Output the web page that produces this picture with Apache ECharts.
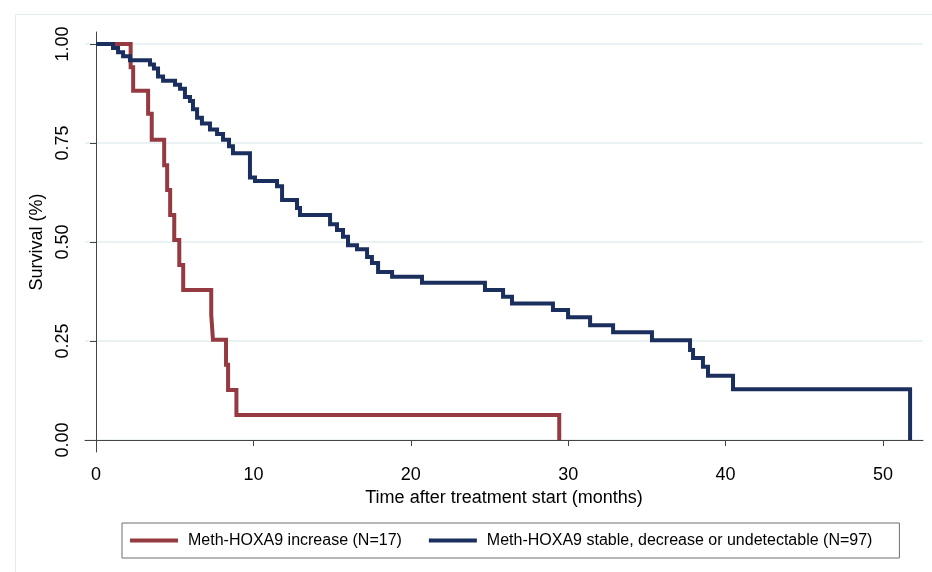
<!DOCTYPE html>
<html>
<head>
<meta charset="utf-8">
<title>Survival by Meth-HOXA9</title>
<script src="https://cdn.jsdelivr.net/npm/echarts@6/dist/echarts.min.js"></script>
<style>
    html, body { margin: 0; padding: 0; background: #fff; }
    #chart { width: 932px; height: 572px; }
</style>
</head>
<body>
<div id="chart"></div>
<script>
// Kaplan-Meier steps (months, survival)
const redName = 'Meth-HOXA9 increase (N=17)';
const redTime = [0, 2.2, 2.36, 3.31, 3.54, 4.33, 4.52, 4.71, 4.97, 5.29, 5.54, 7.32, 7.43, 8.26, 8.39, 8.92, 29.43];
const redSurv = [1, 0.941, 0.882, 0.824, 0.758, 0.694, 0.631, 0.568, 0.505, 0.442, 0.379, 0.316, 0.253, 0.19, 0.126, 0.063, 0];

const blueName = 'Meth-HOXA9 stable, decrease or undetectable (N=97)';
const blueTime = [0, 1.08, 1.40, 1.72, 2.16, 3.43, 3.68, 3.94, 4.26, 5.02, 5.34, 5.65, 5.97, 6.16, 6.42, 6.73,
    7.24, 7.69, 8.07, 8.45, 8.70, 9.78, 10.10, 11.50, 11.82, 12.77, 12.96, 14.87, 15.31, 15.69, 16.01, 16.58,
    17.22, 17.53, 17.92, 18.81, 20.71, 24.71, 25.86, 26.43, 29.03, 29.99, 31.39, 32.85, 35.32, 37.74, 37.93,
    38.56, 38.88, 40.47, 51.72];
const blueSurv = [1, 0.990, 0.979, 0.969, 0.959, 0.948, 0.938, 0.918, 0.907, 0.897, 0.887, 0.866, 0.856, 0.835, 0.814, 0.799,
    0.784, 0.773, 0.758, 0.742, 0.724, 0.663, 0.654, 0.641, 0.606, 0.586, 0.568, 0.545, 0.530, 0.513, 0.492, 0.482,
    0.462, 0.447, 0.424, 0.412, 0.397, 0.379, 0.362, 0.345, 0.328, 0.310, 0.290, 0.272, 0.252, 0.227, 0.207,
    0.185, 0.162, 0.128, 0];

const xTicks = [0, 10, 20, 30, 40, 50];
const yTicks = [0, 0.25, 0.5, 0.75, 1];

const FONT = "'Liberation Sans', Arial, sans-serif";
const RED = '#953a40';
const BLUE = '#1b2f5e';

function toPairs(times, surv) {
    return times.map((t, i) => [t, surv[i]]);
}

function initChart() {
    const chart = echarts.init(document.getElementById('chart'));
    const hidden = { axisLine: { show: false }, axisTick: { show: false }, axisLabel: { show: false } };
    chart.setOption({
        animation: false,
        textStyle: { fontFamily: FONT },
        graphic: [{
            type: 'rect', left: 13, top: 12, z: -1,
            shape: { width: 1000, height: 1000 },
            style: { fill: 'none', stroke: '#e1ecee', lineWidth: 1 }
        }],
        grid: [
            { left: 85, right: 9, top: 32, bottom: 120 },
            // second grid only carries the horizontal gridlines, 0..1 between y=44 and y=440
            { left: 85, right: 9, top: 44, bottom: 132 }
        ],
        legend: {
            data: [redName, blueName],
            left: 122, top: 523,
            padding: [9, 27, 9, 8],
            borderColor: '#6e6e6e', borderWidth: 1, borderRadius: 0,
            icon: 'rect', itemWidth: 48, itemHeight: 4, itemGap: 27,
            textStyle: { fontSize: 16, color: '#000', fontFamily: FONT, lineHeight: 17, padding: [0, 0, 0, 5] }
        },
        xAxis: [{
            type: 'value', min: -0.7, max: 52.54, gridIndex: 0,
            name: 'Time after treatment start (months)', nameLocation: 'middle', nameGap: 33,
            nameTextStyle: { fontSize: 18, color: '#000', fontFamily: FONT },
            axisLine: { lineStyle: { color: '#444', width: 1 } },
            axisTick: { customValues: xTicks, length: 6, lineStyle: { color: '#444' } },
            axisLabel: { customValues: xTicks, fontSize: 18, color: '#000', margin: 14, formatter: v => String(v) },
            splitLine: { show: false }
        }, {
            type: 'value', min: 0, max: 50, gridIndex: 1, ...hidden, splitLine: { show: false }
        }],
        yAxis: [{
            type: 'value', min: -0.0303, max: 1.0303, gridIndex: 0,
            name: 'Survival (%)', nameLocation: 'middle', nameGap: 33,
            nameTextStyle: { fontSize: 18, color: '#000', fontFamily: FONT },
            axisLine: { show: true, lineStyle: { color: '#444', width: 1 } },
            axisTick: { show: true, customValues: yTicks, length: 6, lineStyle: { color: '#444' } },
            axisLabel: { customValues: yTicks, rotate: 90, fontSize: 18, color: '#000', margin: 13, formatter: v => v.toFixed(2) },
            splitLine: { show: false }
        }, {
            type: 'value', min: 0, max: 1, interval: 0.25, gridIndex: 1, ...hidden,
            splitLine: { show: true, lineStyle: { color: '#e5eef0', width: 1.5 } }
        }],
        series: [
            {
                name: redName, type: 'line', step: 'end', z: 2,
                data: toPairs(redTime, redSurv),
                showSymbol: false, color: RED,
                lineStyle: { color: RED, width: 4, cap: 'butt', join: 'miter' }
            },
            {
                name: blueName, type: 'line', step: 'end', z: 3,
                data: toPairs(blueTime, blueSurv),
                showSymbol: false, color: BLUE,
                lineStyle: { color: BLUE, width: 4, cap: 'butt', join: 'miter' }
            }
        ]
    });
}

initChart();
</script>
</body>
</html>
